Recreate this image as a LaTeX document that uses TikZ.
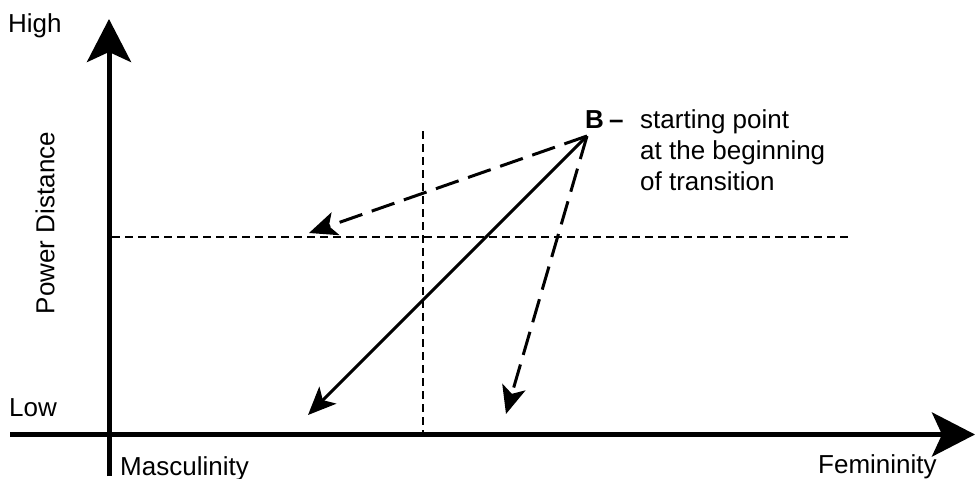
\documentclass[tikz,border=0pt]{standalone}
\usepackage{fontspec}
\setmainfont{Liberation Sans}
\usetikzlibrary{arrows.meta}
\begin{document}
\begin{tikzpicture}[x=1pt,y=-1pt,
  lbl/.style={font=\fontsize{26}{31}\selectfont, inner sep=0pt},
  axis/.style={line width=5pt, -{Stealth[length=43pt,width=44pt,inset=10pt]}},
  guide/.style={line width=1.8pt, dash pattern=on 8pt off 5pt},
  move/.style={line width=3pt, -{Stealth[length=28pt,width=24pt,inset=7pt]}},
  movedash/.style={move, dash pattern=on 24pt off 10pt}]
\useasboundingbox (0,0) rectangle (975,479);
% axes
\coordinate (ybot) at (109,476);
\coordinate (ytop) at (109,19);
\coordinate (xleft) at (10,434.5);
\coordinate (xright) at (975,434.5);
\draw[axis] (ybot) -- (ytop);
\draw[axis] (xleft) -- (xright);
% guides
\coordinate (hgL) at (112,237);
\coordinate (hgR) at (852,237);
\coordinate (vgT) at (423,131);
\coordinate (vgB) at (423,432);
\draw[guide] (hgL) -- (hgR);
\draw[guide] (vgT) -- (vgB);
% labels
\node[lbl, anchor=base west] (high) at (8,32) {High};
\node[lbl, anchor=base west] (low) at (9,416) {Low};
\node[lbl, anchor=base west] (masc) at (120,475) {Masculinity};
\node[lbl, anchor=base west] (fem) at (818,473) {Femininity};
\node[lbl, rotate=90] (pd) at (45,223) {Power Distance};
% B
\node[lbl, anchor=base west] (B) at (585,128) {\textbf{B}};
\node[lbl, anchor=base west] (dash) at (609,128) {\textbf{–}};
\node[lbl, anchor=base west, align=left] (desc) at (640,190) {starting point\\at the beginning\\of transition};
\coordinate (S) at (587,136);
\coordinate (t1) at (309,233);
\coordinate (t2) at (308,415);
\coordinate (t3) at (506,414);
\draw[movedash] (S) -- (t1);
\draw[move] (S) -- (t2);
\draw[movedash] (S) -- (t3);
\end{tikzpicture}
\end{document}
